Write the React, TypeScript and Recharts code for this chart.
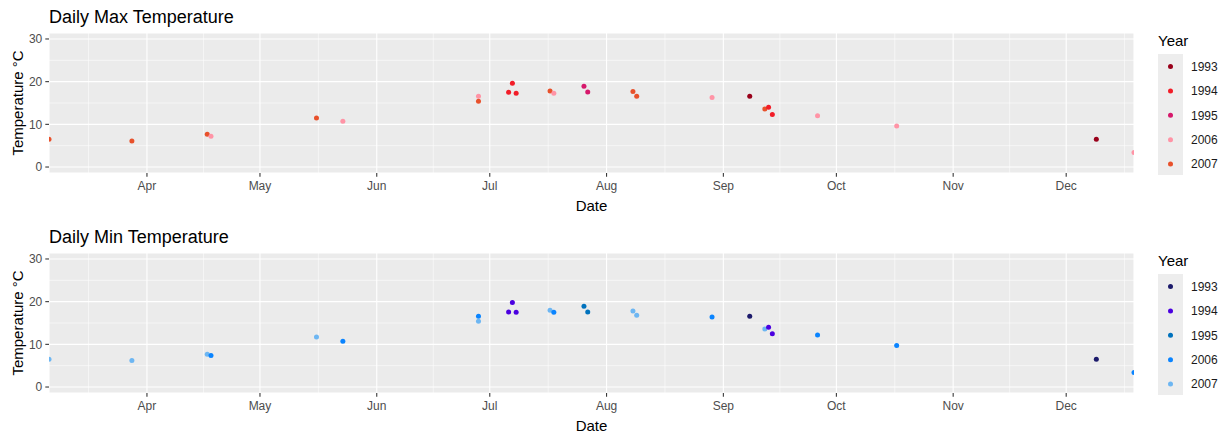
import React from "react";
import { ScatterChart, Scatter, XAxis, YAxis, CartesianGrid, ReferenceLine, Cell } from "recharts";

// Observation dates (month-day), year of observation and temperatures
const dates = ["03-06", "03-28", "04-17", "04-18", "05-16", "05-23", "06-28", "06-28", "07-06", "07-07", "07-08", "07-17", "07-18", "07-26", "07-27", "08-08", "08-09", "08-29", "09-08", "09-12", "09-13", "09-14", "09-26", "10-17", "12-09", "12-19"];
const years = [2007, 2007, 2007, 2006, 2007, 2006, 2006, 2007, 1994, 1994, 1994, 2007, 2006, 1995, 1995, 2007, 2007, 2006, 1993, 2007, 1994, 1994, 2006, 2006, 1993, 2006];
const maxTemps = [6.5, 6.1, 7.7, 7.2, 11.5, 10.7, 16.6, 15.4, 17.5, 19.6, 17.3, 17.8, 17.3, 18.9, 17.6, 17.7, 16.6, 16.3, 16.6, 13.6, 14.0, 12.3, 12.0, 9.6, 6.5, 3.4];
const minTemps = [6.5, 6.2, 7.7, 7.4, 11.7, 10.7, 16.6, 15.4, 17.6, 19.8, 17.5, 18.0, 17.5, 18.9, 17.6, 17.8, 16.8, 16.4, 16.6, 13.6, 14.0, 12.5, 12.2, 9.7, 6.5, 3.4];

const yearLevels = [1993, 1994, 1995, 2006, 2007];
const maxColors = ["#99001A", "#F21D28", "#D6186B", "#FF94A6", "#E8512B"];
const minColors = ["#1C1A6B", "#4B00E0", "#0072BD", "#0A84FF", "#6DB6F2"];

const monthTickDates = ["04-01", "05-01", "06-01", "07-01", "08-01", "09-01", "10-01", "11-01", "12-01"];
const monthTickLabels = ["Apr", "May", "Jun", "Jul", "Aug", "Sep", "Oct", "Nov", "Dec"];
const monthBoundaryDates = ["03-01", "04-01", "05-01", "06-01", "07-01", "08-01", "09-01", "10-01", "11-01", "12-01", "01-01"];

const yTicks = [0, 10, 20, 30];
const yMinor = [5, 15, 25];

const FONT = "'Liberation Sans', Arial, Helvetica, sans-serif";

function doy(md: string): number {
  const [m, d] = md.split("-").map(Number);
  return Math.round((Date.UTC(2001, m - 1, d) - Date.UTC(2001, 0, 1)) / 86400000) + 1;
}

const xTicks = monthTickDates.map(doy);
const boundaries = monthBoundaryDates.map((d, i) => (i === monthBoundaryDates.length - 1 ? doy(d) + 365 : doy(d)));
const xMinor = boundaries.slice(0, -1).map((b, i) => (b + boundaries[i + 1]) / 2);
const xs = dates.map(doy);
const xDomain = [Math.min(...xs), Math.max(...xs)];

const W = 1231;
const H = 220;
const PL = 49;
const PR = 1134;
const PT = 33;
const PB = 173;

function Panel({ title, values, colors, top }: { title: string; values: number[]; colors: string[]; top: number }) {
  const data = dates.map((d, i) => ({ x: xs[i], y: values[i], year: years[i] }));
  return (
    <div style={{ position: "absolute", left: 0, top, width: W, height: H }}>
      <ScatterChart width={W} height={H} margin={{ top: PT, right: W - PR, bottom: 0, left: 0 }}>
        <CartesianGrid fill="#EBEBEB" stroke="#FFFFFF" strokeWidth={1.1} />
        {xMinor.map((m) => (
          <ReferenceLine key={"vx" + m} x={m} stroke="#FFFFFF" strokeWidth={0.55} />
        ))}
        {yMinor.map((m) => (
          <ReferenceLine key={"hy" + m} y={m} stroke="#FFFFFF" strokeWidth={0.55} />
        ))}
        <XAxis
          type="number"
          dataKey="x"
          domain={xDomain}
          allowDataOverflow
          ticks={xTicks}
          tickFormatter={(v: number) => monthTickLabels[xTicks.indexOf(v)]}
          axisLine={false}
          tickSize={3.7}
          tickMargin={5}
          height={H - PB}
          tickLine={{ stroke: "#333333", strokeWidth: 1.07 }}
          tick={{ fill: "#4D4D4D", fontSize: 12, fontFamily: FONT }}
        />
        <YAxis
          type="number"
          dataKey="y"
          domain={[-1.4, 31.4]}
          allowDataOverflow
          ticks={yTicks}
          axisLine={false}
          tickSize={3.7}
          tickMargin={3}
          width={PL}
          tickLine={{ stroke: "#333333", strokeWidth: 1.07 }}
          tick={{ fill: "#4D4D4D", fontSize: 12, fontFamily: FONT }}
        />
        <Scatter
          data={data}
          isAnimationActive={false}
          shape={(p: any) => <circle cx={p.cx} cy={p.cy} r={2.5} fill={p.fill} />}
        >
          {data.map((d, i) => (
            <Cell key={i} fill={colors[yearLevels.indexOf(d.year)]} />
          ))}
        </Scatter>
      </ScatterChart>
      <svg width={W} height={H} style={{ position: "absolute", left: 0, top: 0, pointerEvents: "none" }} fontFamily={FONT}>
        <text x={PL} y={23} fontSize={18} fill="#000000">{title}</text>
        <text x={(PL + PR) / 2} y={210.7} fontSize={15} textAnchor="middle" fill="#000000">Date</text>
        <text transform={`translate(22.5, ${(PT + PB) / 2}) rotate(-90)`} fontSize={15} textAnchor="middle" fill="#000000">Temperature °C</text>
        <text x={1158} y={45.5} fontSize={15} fill="#000000">Year</text>
        <rect x={1158} y={54} width={25} height={121} fill="#EDEDED" />
        {yearLevels.map((yr, i) => (
          <g key={yr}>
            <circle cx={1170.5} cy={66.5 + i * 24.4} r={2.5} fill={colors[i]} />
            <text x={1191} y={66.5 + i * 24.4 + 4.3} fontSize={12} fill="#1A1A1A">{yr}</text>
          </g>
        ))}
      </svg>
    </div>
  );
}

export default function App() {
  return (
    <div style={{ position: "relative", width: W, height: 435, background: "#FFFFFF" }}>
      <style>{"body{margin:0;background:#fff}"}</style>
      <Panel title="Daily Max Temperature" values={maxTemps} colors={maxColors} top={0} />
      <Panel title="Daily Min Temperature" values={minTemps} colors={minColors} top={220} />
    </div>
  );
}
